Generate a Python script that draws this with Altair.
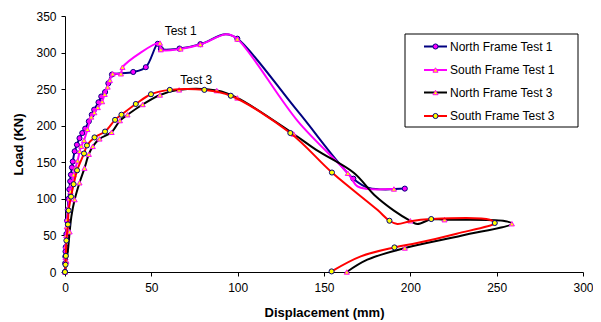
import altair as alt
import pandas as pd

FONT = "Liberation Sans"

series_names = ["North Frame Test 1", "South Frame Test 1", "North Frame Test 3", "South Frame Test 3"]
line_colors = ["#000080", "#FF00FF", "#000000", "#FF0000"]
marker_shapes = ["circle", "triangle-up", "triangle-up", "circle"]
marker_fills = ["#FF00FF", "#FFFF00", "#FFFF00", "#FFFF00"]
marker_strokes = ["#000080", "#FF00FF", "#FF00FF", "#000080"]

# North Frame Test 1
nt1_x = [0, 0.1, 0.2, 0.3, 0.4, 0.8, 1.2, 1.6, 2.0, 2.5, 3.0, 3.4, 4.0, 4.5, 5.6, 6.9, 8.4, 10.0,
         11.7, 13.8, 15.5, 16.9, 19.4, 21.0, 23.2, 25.1, 27.2, 30.0, 39.5, 46.8, 53.7, 55.5, 66.3,
         78.4, 93.0, 99.8, 134.9, 167.0, 176.0, 196.8]
nt1_y = [0, 12, 21, 28, 34, 52, 70, 85, 100, 113, 124, 133, 143, 151, 165, 174, 183, 190,
         196, 206, 215, 222, 232, 240, 246, 258, 270, 271, 273.5, 280, 312, 305, 305.5,
         311.5, 325, 319, 219.5, 127.6, 115, 114]
nt1_m = [1, 1, 1, 1, 1, 1, 1, 1, 1, 1, 1, 1, 1, 1, 1, 1, 1, 1,
         1, 1, 1, 1, 1, 1, 1, 1, 1, 0, 1, 1, 1, 1, 1,
         1, 0, 1, 0, 1, 0, 1]

# South Frame Test 1
st1_x = [0, 0.3, 0.5, 0.7, 1.0, 1.3, 1.8, 2.5, 3.2, 4.0, 5.0, 6.0, 7.3, 8.5, 9.4, 11.0, 13.0,
         15.2, 17.0, 19.0, 21.5, 23.0, 24.7, 26.0, 27.6, 32.4, 33.3, 55.0, 55.5, 66.9, 78.4,
         93.7, 99.8, 134.9, 163.8, 169.4, 175.2, 190.5]
st1_y = [0, 20, 35, 50, 62, 72, 88, 100, 110, 120, 133, 142, 152, 165, 172, 180, 195,
         212, 218, 225, 233, 243, 253, 262, 271, 271, 280, 313, 304, 305, 311,
         325, 318.5, 206, 135, 117, 113.5, 113.5]
st1_m = [1, 1, 1, 1, 1, 1, 1, 1, 1, 1, 1, 1, 1, 1, 1, 1, 1,
         1, 1, 1, 1, 1, 1, 1, 1, 1, 1, 1, 1, 1, 1,
         0, 1, 0, 1, 0, 0, 1]

# North Frame Test 3
nt3_x = [0, 0.8, 1.7, 2.7, 3.7, 5.6, 8.4, 11.3, 13.8, 16.1, 20.0, 27.0, 31.8, 36.2, 45.0, 55.0,
         66.1, 87.9, 99.8, 132.4, 145.5, 167.4, 179.0, 190.5, 200.0, 204.0, 212.1, 219.8, 253.7,
         258.8, 230.0, 196.8, 175.1, 163.2]
nt3_y = [0, 15, 30, 55, 76, 99, 122, 142, 161, 171.7, 182, 191, 207, 215, 229, 242,
         249, 248, 238, 188.7, 167, 135.4, 105.7, 84, 70, 65.6, 72, 71.5, 70,
         66, 50, 32.8, 16.8, 0]
nt3_m = [0, 1, 0, 1, 0, 1, 1, 1, 1, 1, 1, 1, 1, 1, 1, 1,
         1, 1, 1, 1, 0, 0, 0, 0, 1, 0, 0, 1, 0,
         1, 0, 1, 0, 1]

# South Frame Test 3
st3_x = [0, 0.3, 0.5, 0.8, 1.7, 2.1, 3.5, 5.0, 7.0, 11.0, 12.7, 17.1, 23.2, 29.0, 32.7, 41.0,
         49.8, 60.7, 80.7, 96.0, 130.5, 154.6, 180.9, 187.9, 192.5, 200.0, 212.1, 246.0, 248.9,
         226.8, 203.9, 190.8, 171.3, 154.4]
st3_y = [0, 10, 22, 43, 65, 84, 103, 120, 139, 162, 173, 184, 192, 208, 215, 229.7,
         243, 249, 249, 241, 190, 136, 85, 70.1, 65.6, 69.5, 72.4, 71.5, 67,
         52.4, 39.6, 33.6, 21.3, 0.8]
st3_m = [1, 1, 1, 1, 1, 1, 1, 1, 1, 1, 1, 1, 1, 1, 1, 1,
         1, 1, 1, 1, 1, 1, 0, 1, 0, 0, 1, 0, 1,
         0, 0, 1, 0, 1]

all_x = [nt1_x, st1_x, nt3_x, st3_x]
all_y = [nt1_y, st1_y, nt3_y, st3_y]
all_m = [nt1_m, st1_m, nt3_m, st3_m]

label_text = ["Test 1", "Test 3"]
label_x = [67, 76]
label_y = [329, 263]

x_ticks = [0, 50, 100, 150, 200, 250, 300]
y_ticks = [0, 50, 100, 150, 200, 250, 300, 350]

x_enc = alt.X("x:Q", scale=alt.Scale(domain=[0, 300], nice=False, zero=False),
              axis=alt.Axis(values=x_ticks, title="Displacement (mm)", grid=False,
                            labelFlush=False, labelOverlap=False,
                            labelFont=FONT, labelFontSize=12, labelColor="#000000",
                            titleFont=FONT, titleFontSize=13, titleFontWeight="bold",
                            titleColor="#000000", domainColor="#000000", tickColor="#000000",
                            tickSize=4, labelPadding=6, titlePadding=13))
y_enc = alt.Y("y:Q", scale=alt.Scale(domain=[0, 350], nice=False, zero=False),
              axis=alt.Axis(values=y_ticks, title="Load (KN)", grid=False,
                            labelFlush=False, labelOverlap=False,
                            labelFont=FONT, labelFontSize=12, labelColor="#000000",
                            titleFont=FONT, titleFontSize=13, titleFontWeight="bold",
                            titleColor="#000000", domainColor="#000000", tickColor="#000000",
                            tickSize=4, labelPadding=5, titlePadding=10))

layers = []
for k in range(4):
    df = pd.DataFrame({"x": all_x[k], "y": all_y[k], "m": all_m[k],
                       "i": list(range(len(all_x[k])))})
    line = alt.Chart(df).mark_line(interpolate="catmull-rom", strokeWidth=2,
                                   color=line_colors[k]).encode(x=x_enc, y=y_enc, order="i:Q")
    pts = alt.Chart(df).transform_filter("datum.m == 1").mark_point(
        shape=marker_shapes[k], filled=True, fill=marker_fills[k], stroke=marker_strokes[k],
        strokeWidth=1, size=26, opacity=1).encode(x=x_enc, y=y_enc)
    layers += [line, pts]

lab_df = pd.DataFrame({"x": label_x, "y": label_y, "t": label_text})
labels = alt.Chart(lab_df).mark_text(font=FONT, fontSize=12, color="#000000").encode(
    x=x_enc, y=y_enc, text="t:N")
layers.append(labels)

# legend (drawn in pixel space)
box = alt.Chart(pd.DataFrame({"a": [0]})).mark_rect(fill="white", stroke="#000000",
                                                    strokeWidth=1).encode(
    x=alt.value(340), x2=alt.value(513), y=alt.value(18), y2=alt.value(111))
layers.append(box)
rows = [30.5, 54, 76.5, 100]
for k in range(4):
    d = pd.DataFrame({"name": [series_names[k]]})
    layers.append(alt.Chart(d).mark_rule(color=line_colors[k], strokeWidth=2).encode(
        x=alt.value(359), x2=alt.value(382), y=alt.value(rows[k])))
    layers.append(alt.Chart(d).mark_point(shape=marker_shapes[k], filled=True,
                                          fill=marker_fills[k], stroke=marker_strokes[k],
                                          strokeWidth=1, size=26, opacity=1).encode(
        x=alt.value(370.5), y=alt.value(rows[k])))
    layers.append(alt.Chart(d).mark_text(font=FONT, fontSize=12, align="left",
                                         baseline="middle", color="#000000").encode(
        x=alt.value(385), y=alt.value(rows[k]), text="name:N"))

chart = alt.layer(*layers).properties(
    width=518, height=256,
    autosize=alt.AutoSizeParams(type="none"),
    padding={"left": 57, "top": 8, "right": 10, "bottom": 48},
    background="white",
).configure_view(stroke=None)

chart.save("out.html", embed_options={"renderer": "svg", "actions": False})
